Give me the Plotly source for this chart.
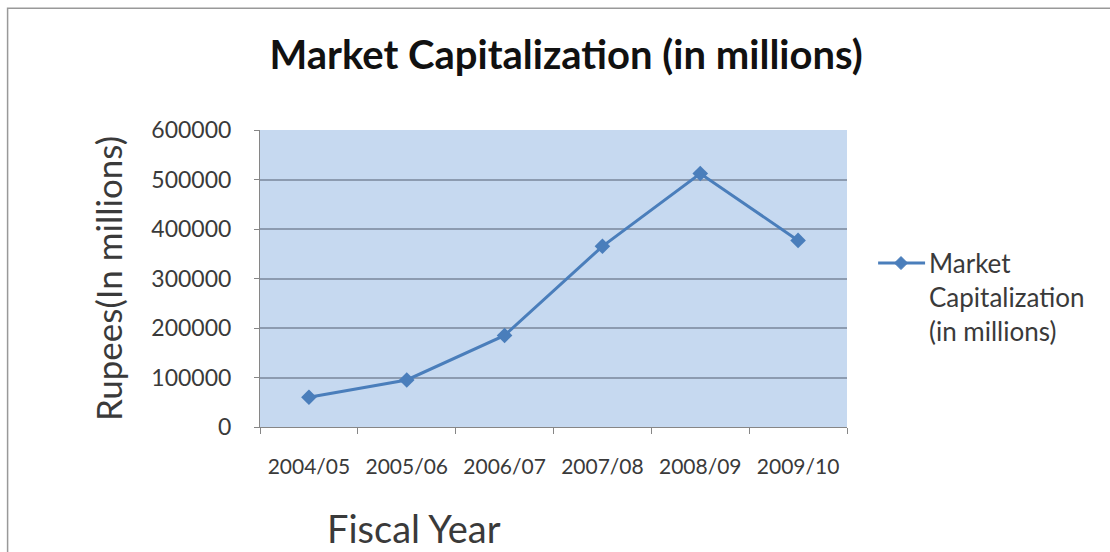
import plotly.graph_objects as go

fiscal_years = ["2004/05", "2005/06", "2006/07", "2007/08", "2008/09", "2009/10"]
market_cap = [60000, 95000, 185000, 365000, 512000, 377000]
y_ticks = [0, 100000, 200000, 300000, 400000, 500000, 600000]
series_name = "Market<br>Capitalization<br>(in millions)"

line_blue = "#4a7ebb"
axis_grey = "#868686"
text_grey = "#3a3a3a"
font_family = "Lato, 'Open Sans', sans-serif"

fig = go.Figure()
fig.add_trace(go.Scatter(
    x=fiscal_years,
    y=market_cap,
    mode="lines+markers",
    name="Market Capitalization (in millions)",
    line=dict(color=line_blue, width=3),
    marker=dict(symbol="diamond", size=12, color=line_blue),
    showlegend=False,
))

fig.update_layout(
    width=1110,
    height=552,
    margin=dict(l=260, r=263, t=130, b=125),
    paper_bgcolor="white",
    plot_bgcolor="#c6d9f0",
    font=dict(family=font_family, color=text_grey),
    title=dict(
        text="<b>Market Capitalization (in millions)</b>",
        x=0.51, xanchor="center",
        y=0.9, yanchor="middle",
        font=dict(size=40, color="#111111", family=font_family),
    ),
    xaxis=dict(
        type="category",
        tickson="boundaries",
        ticks="outside",
        ticklen=6,
        tickcolor=axis_grey,
        showline=True,
        linecolor=axis_grey,
        linewidth=1,
        showgrid=False,
        tickfont=dict(size=21, color=text_grey),
        ticklabelstandoff=21,
        range=[-0.5, 5.5],
    ),
    yaxis=dict(
        range=[0, 600000],
        tickvals=y_ticks,
        ticktext=[str(v) for v in y_ticks],
        ticks="outside",
        ticklen=5,
        tickcolor=axis_grey,
        showline=True,
        linecolor=axis_grey,
        linewidth=1,
        showgrid=True,
        gridcolor="#8c9bb0",
        gridwidth=1.5,
        zeroline=False,
        tickfont=dict(size=23, color=text_grey),
        ticklabelstandoff=18,
        title=dict(
            text="Rupees(In millions)",
            font=dict(size=35, color=text_grey),
            standoff=18,
        ),
    ),
)

# x-axis caption, placed below the category labels toward the left
fig.add_annotation(
    text="Fiscal Year",
    xref="paper", yref="paper",
    x=0.11, xanchor="left",
    y=-0.34, yanchor="middle",
    showarrow=False,
    font=dict(size=38, color=text_grey, family=font_family),
)

# series key on the right: line sample with a diamond, then the wrapped name
key_y = 0.552
fig.add_shape(
    type="line",
    xref="paper", yref="paper",
    x0=1.053, x1=1.133, y0=key_y, y1=key_y,
    line=dict(color=line_blue, width=3),
)
fig.add_shape(
    type="path",
    xref="paper", yref="paper",
    xsizemode="pixel", ysizemode="pixel",
    xanchor=1.092, yanchor=key_y,
    path="M -6.5 0 L 0 6.5 L 6.5 0 L 0 -6.5 Z",
    fillcolor=line_blue,
    line=dict(color=line_blue, width=1),
)
fig.add_annotation(
    text=series_name,
    xref="paper", yref="paper",
    x=1.136, xanchor="left",
    y=key_y + 0.06, yanchor="top",
    align="left",
    showarrow=False,
    font=dict(size=26, color=text_grey, family=font_family),
)

# chart frame
fig.add_shape(
    type="rect",
    xref="paper", yref="paper",
    x0=-0.43, x1=1.5, y0=-0.6, y1=1.41,
    line=dict(color="#999999", width=1.5),
    fillcolor="rgba(0,0,0,0)",
    layer="below",
)

fig.write_html("out.html")
